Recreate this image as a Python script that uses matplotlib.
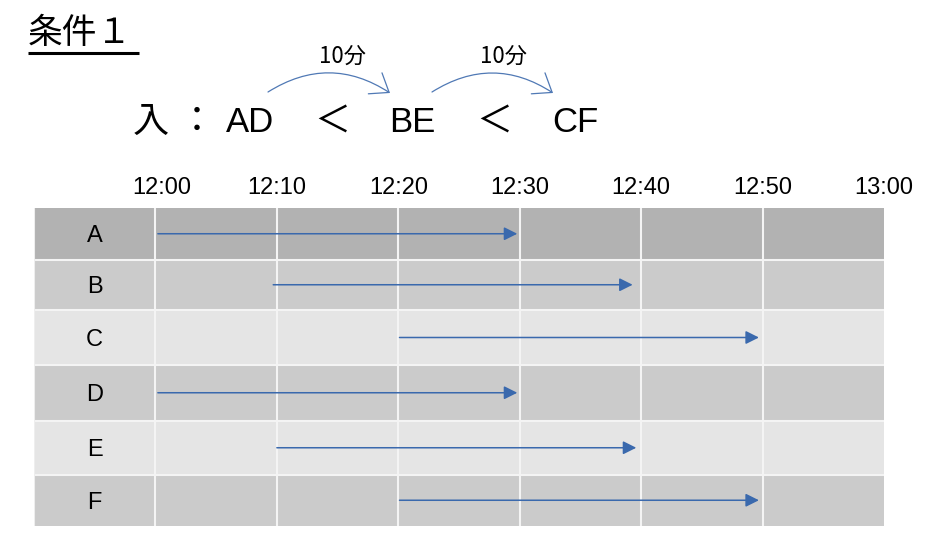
import matplotlib
matplotlib.use("Agg")
import matplotlib.pyplot as plt
from matplotlib.patches import FancyArrowPatch, ArrowStyle
from matplotlib.transforms import ScaledTranslation

# ---------------- data ----------------
rows = ["A", "B", "C", "D", "E", "F"]
start_min = [0.2, 9.7, 20.1, 0.2, 10.0, 20.1]     # minutes after 12:00
end_min = [29.8, 39.3, 49.7, 29.8, 39.6, 49.7]
tick_min = [0, 10, 20, 30, 40, 50, 60]
tick_labels = ["12:00", "12:10", "12:20", "12:30", "12:40", "12:50", "13:00"]
title = "条件１"
order_parts = ["入", "：", "AD", "＜", "BE", "＜", "CF"]
gap_labels = ["10分", "10分"]

# ---------------- layout / style ----------------
W, H = 946, 549
fig = plt.figure(figsize=(W / 100, H / 100), dpi=100)
fig.patch.set_facecolor("white")

row_edges_px = [208, 259.5, 310, 365, 420.5, 475, 525.5]
row_colors = ["#b2b2b2", "#cbcbcb", "#e5e5e5", "#cbcbcb", "#e5e5e5", "#cbcbcb"]
x_left_px, x_right_px = 34, 884
xmin, xmax = -10, 60
arrow_color = "#3a69ad"
arc_color = "#5079b5"
latin = ["Liberation Sans", "Noto Sans CJK JP"]
cjk = ["Noto Sans CJK JP", "Liberation Sans"]

ax = fig.add_axes([x_left_px / W, 1 - row_edges_px[-1] / H,
                   (x_right_px - x_left_px) / W,
                   (row_edges_px[-1] - row_edges_px[0]) / H])
ax.set_xlim(xmin, xmax)
ax.set_ylim(row_edges_px[-1], row_edges_px[0])
ax.set_facecolor("white")

for i, (lab, c) in enumerate(zip(rows, row_colors)):
    y0, y1 = row_edges_px[i], row_edges_px[i + 1]
    yc = (y0 + y1) / 2
    ax.barh(yc, xmax - xmin, left=xmin, height=y1 - y0, color=c, linewidth=0, zorder=1)
    ax.text(-5, yc + 8.6, lab, ha="center", va="baseline", fontsize=17,
            family=latin, color="black", zorder=4)
    ax.annotate("", xy=(end_min[i], yc), xytext=(start_min[i], yc),
                arrowprops=dict(arrowstyle=ArrowStyle("-|>", head_length=0.4, head_width=0.2),
                                mutation_scale=20, color=arrow_color, lw=1.1,
                                shrinkA=0, shrinkB=0),
                zorder=5)

for t in tick_min[:-1]:
    ax.axvline(t, color="#f4f4f4", lw=1.5, zorder=2)
for e in row_edges_px[1:-1]:
    ax.axhline(e, color="#f4f4f4", lw=1.5, zorder=2)
ax.axvline(xmin, color="#eeeeee", lw=1.5, zorder=2)

ax.xaxis.tick_top()
ax.set_xticks(tick_min)
ax.set_xticklabels(tick_labels, fontsize=17, family=latin)
ax.tick_params(axis="x", length=0, pad=6.5)
first = ax.get_xticklabels()[0]
first.set_transform(first.get_transform() + ScaledTranslation(0.06, 0, fig.dpi_scale_trans))
ax.set_yticks([])
for s in ax.spines.values():
    s.set_visible(False)

# ---------------- header overlay ----------------
ov = fig.add_axes([0, 0, 1, 1])
ov.set_xlim(0, W)
ov.set_ylim(H, 0)
ov.axis("off")
ov.patch.set_alpha(0)

ov.text(28, 43, title, fontsize=25, family=cjk, ha="left", va="baseline")
ov.plot([28, 139], [53, 53], color="black", lw=2.2, solid_capstyle="butt")

part_x = [151, 197, 250, 332, 412, 494, 575]
for p, x in zip(order_parts, part_x):
    is_latin = p.isascii()
    ov.text(x, 132, p, fontsize=25 if is_latin else 26,
            family=latin if is_latin else cjk, ha="center", va="baseline")

arc_ends = [((268, 92), (390, 93)), ((432, 92), (553, 93))]
gap_x = [342, 503]
for (pa, pb), gx, gl in zip(arc_ends, gap_x, gap_labels):
    arr = FancyArrowPatch(pa, pb, connectionstyle="arc3,rad=-0.32",
                          arrowstyle=ArrowStyle("->", head_length=0.6, head_width=0.45),
                          mutation_scale=20, color=arc_color, lw=0.9,
                          shrinkA=0, shrinkB=0)
    ov.add_patch(arr)
    ov.text(gx, 63, gl, fontsize=16, family=cjk, ha="center", va="baseline")

fig.savefig("out.png", dpi=100, facecolor="white")
